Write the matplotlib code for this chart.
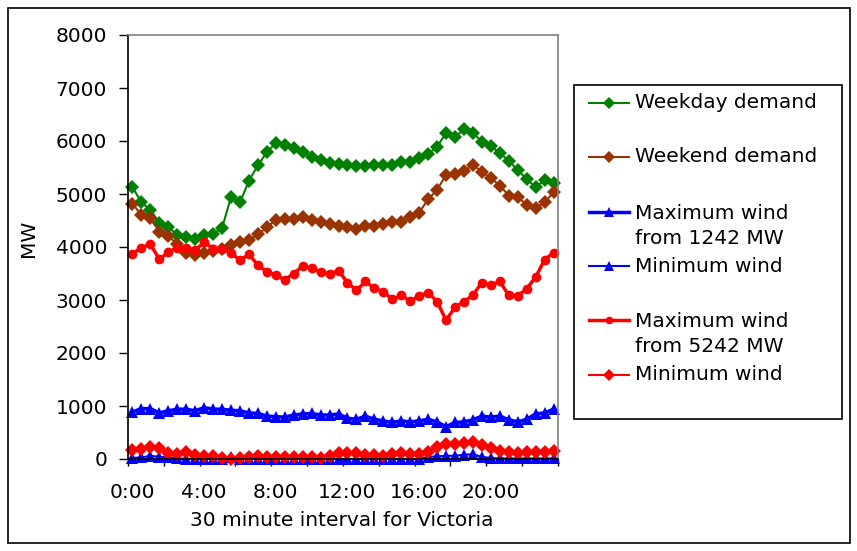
import numpy as np
import matplotlib
matplotlib.use("Agg")
import matplotlib.pyplot as plt
from matplotlib.lines import Line2D
from matplotlib.patches import Rectangle

plt.rcParams['font.family'] = ['DejaVu Sans']

# half-hour intervals, 0:00 .. 23:30
n_points = 48
tick_labels = ["0:00", "4:00", "8:00", "12:00", "16:00", "20:00"]

weekday = [5130, 4840, 4700, 4460, 4380, 4220, 4180, 4150, 4220, 4250,
           4360, 4940, 4840, 5250, 5540, 5790, 5960, 5920, 5860, 5790,
           5700, 5650, 5580, 5570, 5550, 5520, 5520, 5540, 5540, 5540,
           5610, 5610, 5670, 5760, 5890, 6150, 6070, 6220, 6150, 5990,
           5910, 5770, 5630, 5450, 5280, 5130, 5260, 5210]

weekend = [4820, 4600, 4540, 4290, 4200, 4060, 3890, 3850, 3890, 3920,
           3970, 4040, 4100, 4130, 4240, 4370, 4510, 4520, 4520, 4570,
           4510, 4480, 4430, 4400, 4370, 4340, 4400, 4400, 4430, 4480,
           4480, 4560, 4650, 4900, 5080, 5360, 5380, 5430, 5550, 5420,
           5300, 5160, 4970, 4940, 4800, 4730, 4840, 5030]

max_wind_1242 = [890, 950, 950, 870, 910, 940, 940, 910, 970, 940,
                 940, 920, 910, 870, 860, 810, 800, 790, 830, 850,
                 860, 830, 830, 850, 770, 750, 810, 750, 720, 690,
                 720, 700, 720, 750, 700, 610, 690, 700, 740, 810,
                 790, 810, 740, 700, 750, 850, 870, 940]

min_wind_1242 = [20, 30, 60, 40, 30, 10, 5, 0, 0, 0,
                 0, 30, 0, 0, 0, 0, 0, 0, 0, 0,
                 0, 0, 0, 0, 0, 0, 0, 0, 0, 0,
                 0, 0, 0, 40, 50, 60, 60, 80, 90, 40,
                 20, 10, 10, 10, 10, 10, 10, 10]

max_wind_5242 = [3870, 3990, 4050, 3770, 3900, 3990, 3990, 3940, 4090, 3970,
                 3970, 3890, 3750, 3860, 3660, 3530, 3470, 3380, 3500, 3640,
                 3600, 3520, 3500, 3550, 3330, 3180, 3350, 3220, 3160, 3010,
                 3090, 2980, 3080, 3140, 2970, 2620, 2860, 2970, 3090, 3330,
                 3280, 3350, 3090, 3080, 3210, 3430, 3760, 3890]

min_wind_5242 = [170, 180, 230, 200, 110, 90, 130, 75, 60, 60,
                 25, 0, 25, 45, 60, 45, 45, 45, 45, 45,
                 45, 20, 60, 105, 105, 105, 75, 75, 60, 95,
                 105, 95, 95, 140, 230, 280, 285, 310, 325, 265,
                 200, 160, 140, 120, 140, 140, 140, 160]

series = [
    ("Weekday demand", weekday, "#008000", "D", 7.5, 1.5),
    ("Weekend demand", weekend, "#993300", "D", 7.5, 1.5),
    ("Maximum wind\nfrom 1242 MW", max_wind_1242, "#0000FF", "^", 8, 2.5),
    ("Minimum wind", min_wind_1242, "#0000FF", "^", 8, 1.5),
    ("Maximum wind\nfrom 5242 MW", max_wind_5242, "#FF0000", "o", 7, 2.5),
    ("Minimum wind", min_wind_5242, "#FF0000", "D", 7.5, 1.5),
]

FS = 14.5
W, H = 857, 551
fig = plt.figure(figsize=(W / 100, H / 100), dpi=100)
ax = fig.add_axes([128 / W, (H - 459) / H, 430 / W, 424 / H])

x = np.arange(n_points)
for label, vals, color, marker, ms, lw in series:
    ax.plot(x, vals, color=color, marker=marker, markersize=ms,
            linewidth=lw, markeredgewidth=0, clip_on=False)

ax.set_xlim(-0.5, n_points - 0.5)
ax.set_ylim(0, 8000)
ax.set_yticks(np.arange(0, 8001, 1000))
ax.set_xticks(np.arange(-0.5, n_points, 4))
ax.set_xticklabels([])
ax.set_xticks(np.arange(0, n_points, 8), minor=True)
ax.set_xticklabels(tick_labels, minor=True)
ax.tick_params(axis="x", which="major", length=5, width=1, direction="out")
ax.tick_params(axis="x", which="minor", length=0, pad=17, labelsize=FS)
ax.tick_params(axis="y", length=6.5, width=1, labelsize=FS, pad=8.5)

for side in ["top", "right"]:
    ax.spines[side].set_color("#808080")
    ax.spines[side].set_linewidth(1.2)
for side in ["left", "bottom"]:
    ax.spines[side].set_color("black")
    ax.spines[side].set_linewidth(1.2)

ax.set_ylabel("MW", fontsize=FS)
ax.yaxis.set_label_coords(-0.209, 0.52)
ax.set_xlabel("30 minute interval for Victoria", fontsize=FS)
ax.xaxis.set_label_coords(0.497, -0.122)

# outer chart border
fig.patches.append(Rectangle((8 / W, 8 / H), (850 - 8) / W, (543 - 8) / H,
                             transform=fig.transFigure, fill=False,
                             edgecolor="black", linewidth=1.2))

# legend, drawn by hand to follow the Excel layout
fig.patches.append(Rectangle((574 / W, (H - 419) / H), (842 - 574) / W,
                             (419 - 85) / H, transform=fig.transFigure,
                             fill=False, edgecolor="black", linewidth=1.2))
handle_y = [103, 157, 212, 266, 320, 375]
text_y = [103, 157, 226, 266, 334, 375]
for (label, vals, color, marker, ms, lw), hy, ty in zip(series, handle_y, text_y):
    yf = (H - hy) / H
    fig.add_artist(Line2D([589 / W, 629 / W], [yf, yf], color=color,
                          linewidth=lw, transform=fig.transFigure))
    fig.add_artist(Line2D([609 / W], [yf], color=color, marker=marker,
                          markersize=ms - 1.5, markeredgewidth=0,
                          transform=fig.transFigure))
    fig.text(635 / W, (H - ty) / H, label, fontsize=FS, va="center",
             ha="left", linespacing=1.34)

fig.savefig("out.png", dpi=100)
